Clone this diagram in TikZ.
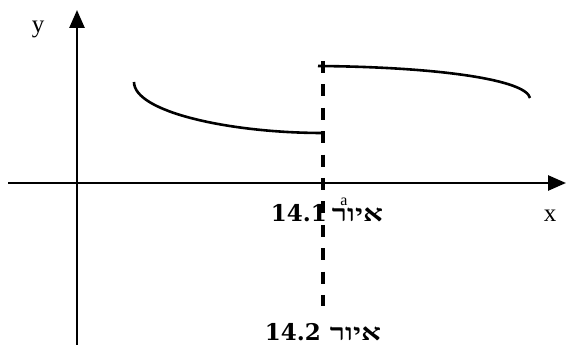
\documentclass[tikz,border=0pt]{standalone}
\usepackage{fontspec}
\setmainfont{Liberation Serif}
\newfontfamily\hebfont[Script=Hebrew]{Liberation Serif}
\newfontfamily\digfont{DejaVu Serif}
\TeXXeTstate=1
\usetikzlibrary{arrows.meta}
\newcommand{\figlabel}[2]{\beginL{\digfont\bfseries #1}\hspace{#2}\scalebox{1.35}[1]{\hebfont\bfseries\beginR איור\endR}\endL}
\begin{document}
\begin{tikzpicture}[x=1pt,y=-1pt,
  axis/.style={line width=2.6pt,-{Triangle[length=18pt,width=15pt]}},
  curve/.style={line width=2.6pt},
  dashline/.style={line width=4pt,dash pattern=on 12pt off 11.4pt},
  lbl/.style={font=\fontsize{25}{28}\selectfont},
  heb/.style={font=\fontsize{23}{26}\selectfont,inner sep=0pt}]
\useasboundingbox (0,0) rectangle (566,347);
\coordinate (yb) at (77,345);
\coordinate (yt) at (77,10);
\coordinate (xl) at (8,183);
\coordinate (xr) at (566,183);
\draw[axis] (yb) -- (yt);
\draw[axis] (xl) -- (xr);
\node[lbl] (ylab) at (38,29) {y};
\node[lbl] (xlab) at (550,216) {x};
\coordinate (dt) at (323,61);
\coordinate (db) at (323,306);
\draw[dashline] (dt) -- (db);
\coordinate (l1) at (134,82);
\coordinate (l2) at (323,133);
\draw[curve] (l1) .. controls (134,112) and (230,133) .. (l2);
\coordinate (r1) at (318,66);
\coordinate (r2) at (530,98);
\draw[curve] (r1) .. controls (440,67) and (526,80) .. (r2);
\node[font=\fontsize{16}{17}\selectfont,inner sep=0pt] (alab) at (344,202) {a};
\node[heb] (f1) at (327,213) {\figlabel{14.1}{5pt}};
\node[heb] (f2) at (323,332) {\figlabel{14.2}{9pt}};
\end{tikzpicture}
\end{document}
